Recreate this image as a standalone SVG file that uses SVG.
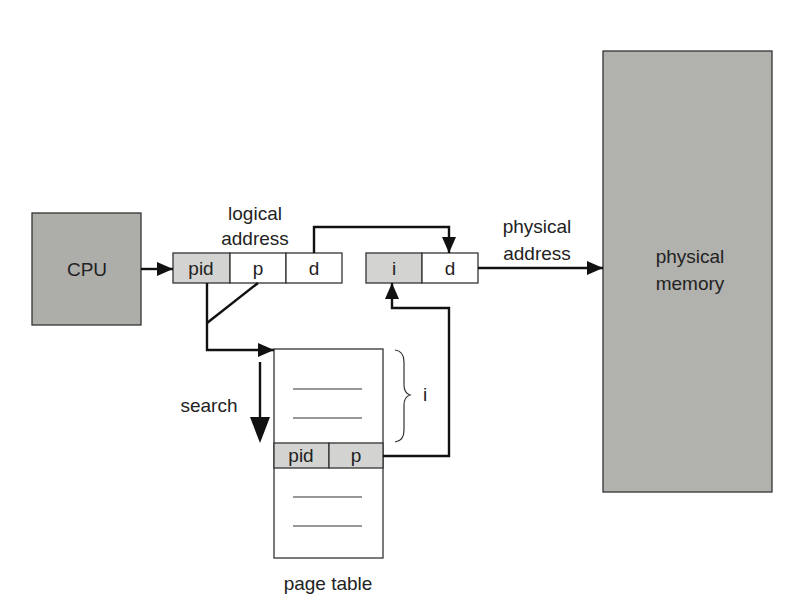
<svg xmlns="http://www.w3.org/2000/svg" width="798" height="613" viewBox="0 0 798 613">
<defs>
<style>
text{font-family:"Liberation Sans",Arial,sans-serif;font-size:19px;fill:#222;text-anchor:middle}
.box{stroke:#333;stroke-width:1.3}
.dark{fill:#adadaa}
.light{fill:#d3d3d1}
.white{fill:#fff}
.conn{fill:none;stroke:#111;stroke-width:2.4}
.thin{fill:none;stroke:#333;stroke-width:1.2}
</style>
<marker id="ah" viewBox="0 0 16 14" refX="16" refY="7" markerWidth="16" markerHeight="14" markerUnits="userSpaceOnUse" orient="auto" overflow="visible">
<path d="M0,0 L16,7 L0,14 z" fill="#111"/>
</marker>
</defs>
<rect width="798" height="613" fill="#fff"/>
<g id="cpu">
<rect class="box dark" x="32" y="213" width="109" height="112"/>
<text x="87" y="276">CPU</text>
</g>
<g id="logical-address">
<rect class="box light" x="173" y="253" width="57" height="30"/>
<rect class="box white" x="230" y="253" width="56" height="30"/>
<rect class="box white" x="286" y="253" width="56" height="30"/>
<text x="201" y="275">pid</text>
<text x="258" y="275">p</text>
<text x="314" y="275">d</text>
<text x="255" y="220">logical</text>
<text x="255" y="245">address</text>
</g>
<g id="physical-address">
<rect class="box light" x="366" y="253" width="56" height="30"/>
<rect class="box white" x="422" y="253" width="56" height="30"/>
<text x="394" y="275">i</text>
<text x="450" y="275">d</text>
<text x="537" y="233">physical</text>
<text x="537" y="260">address</text>
</g>
<g id="physical-memory">
<rect class="box dark" x="603" y="51" width="169" height="441" style="fill:#b1b1ae"/>
<text x="690" y="263">physical</text>
<text x="690" y="290">memory</text>
</g>
<g id="page-table">
<rect class="box white" x="274" y="349" width="109" height="209"/>
<rect class="box light" x="274" y="443" width="55" height="25"/>
<rect class="box light" x="329" y="443" width="54" height="25"/>
<text x="301" y="462">pid</text>
<text x="356" y="462">p</text>
<g class="thin">
<line x1="293" y1="389" x2="362" y2="389"/>
<line x1="293" y1="418" x2="362" y2="418"/>
<line x1="293" y1="497" x2="362" y2="497"/>
<line x1="293" y1="526" x2="362" y2="526"/>
</g>
<text x="328" y="590">page table</text>
</g>
<g id="index-brace">
<path class="thin" d="M395,350 Q404,351 404,362 L404,385 Q404,393 410,395 Q404,397 404,405 L404,430 Q404,441 395,442"/>
<text x="425" y="401">i</text>
</g>
<g id="search">
<text x="209" y="412">search</text>
</g>
<g id="connectors">
<line class="conn" x1="141" y1="269" x2="173" y2="269" marker-end="url(#ah)"/>
<polyline class="conn" points="314,253 314,227 449,227 449,253" marker-end="url(#ah)"/>
<line class="conn" x1="478" y1="268" x2="603" y2="268" marker-end="url(#ah)"/>
<polyline class="conn" points="207,283 207,350 274,350" marker-end="url(#ah)"/>
<line class="conn" x1="258" y1="283" x2="207" y2="323"/>
<polyline class="conn" points="383,456 449,456 449,308 392,308 392,283" marker-end="url(#ah)"/>
<line class="conn" x1="260" y1="362" x2="260" y2="420"/>
<path d="M250,417 L270,417 L260,443 z" fill="#111"/>
</g>
</svg>
